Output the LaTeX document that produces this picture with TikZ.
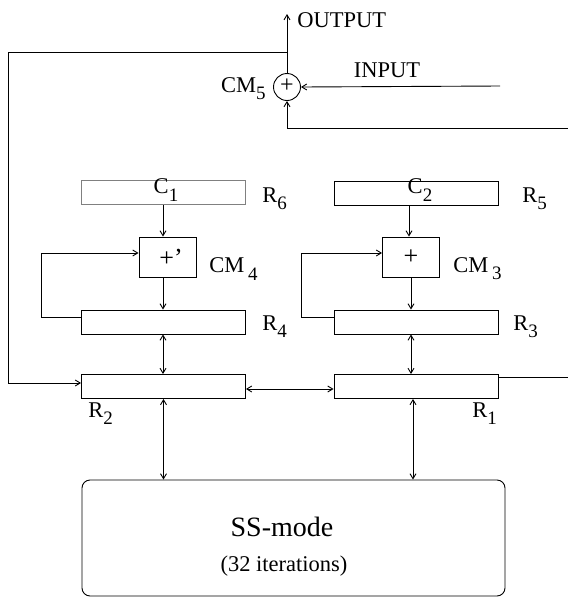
\documentclass[tikz,border=0pt]{standalone}
\usepackage{fontspec}
\setmainfont{Liberation Serif}
\usetikzlibrary{arrows.meta}
\newcommand{\lbl}[2]{#1\raisebox{-0.7ex}{\fontsize{19}{19}\selectfont #2}}
\begin{document}
\begin{tikzpicture}[x=1pt,y=-1pt, line width=0.9pt,
  >={Straight Barb[length=5pt,width=6pt]},
  reg/.style={draw, minimum width=164pt, minimum height=24pt, inner sep=0pt},
  cmbox/.style={draw, minimum width=57pt, minimum height=40pt, inner sep=0pt},
  txt/.style={font=\fontsize{22.5}{24}\selectfont, inner sep=0pt},
  plus/.style={font=\fontsize{26}{26}\selectfont, inner sep=0pt},
  ]
\useasboundingbox (0,0) rectangle (568,598);
% registers
\node[reg, draw=gray] (R6) at (163,192.5) {};
\node[txt] (C1) at (166,190) {\lbl{C}{1}};
\node[txt, anchor=west] (L6) at (262,199) {\lbl{R}{6}};
\node[reg] (R5) at (416,193) {};
\node[txt] (C2) at (420,190) {\lbl{C}{2}};
\node[txt, anchor=west] (L5) at (522,199) {\lbl{R}{5}};
\node[cmbox] (CM4) at (167.5,257) {};
\node[plus] (P4) at (171,258) {+'};
\node[txt, anchor=west] (L4c) at (209,269) {\lbl{CM\,}{4}};
\node[cmbox] (CM3) at (411,257) {};
\node[plus] (P3) at (411,257) {+};
\node[txt, anchor=west] (L3c) at (453,269) {\lbl{CM\,}{3}};
\node[reg] (R4) at (163,322) {};
\node[txt, anchor=west] (L4) at (262,327) {\lbl{R}{4}};
\node[reg] (R3) at (416,322) {};
\node[txt, anchor=west] (L3) at (513,327) {\lbl{R}{3}};
\node[reg] (R2) at (163.5,386.5) {};
\node[txt, anchor=west] (L2) at (88,414) {\lbl{R}{2}};
\node[reg] (R1) at (416,386.5) {};
\node[txt, anchor=west] (L1) at (472,414) {\lbl{R}{1}};
% SS-mode
\node[draw, rounded corners=8pt, minimum width=423pt, minimum height=116pt, inner sep=0pt] (SS) at (293.5,538) {};
\node[font=\fontsize{28}{30}\selectfont, inner sep=0pt] (SSt) at (282,527) {SS-mode};
\node[txt] (SSi) at (284,566) {(32 iterations)};
% CM5
\node[draw, circle, minimum size=27pt, inner sep=0pt] (CM5) at (287,87) {};
\node[font=\fontsize{24}{24}\selectfont, inner sep=0pt] (P5) at (287,86) {+};
\node[txt, anchor=east] (L5c) at (266,89) {\lbl{CM}{5}};
\coordinate (out) at (287,14);
\node[txt, anchor=west] (OUT) at (297,20) {OUTPUT};
\coordinate (in) at (500,86);
\node[txt] (IN) at (387,70) {INPUT};
\coordinate (J) at (287,52);
% connectors
\draw[->] (CM5.north) -- (out);
\draw[->] (in) -- (CM5.east);
\draw[->] (J) -- (8,52) -- (8,383) -- ([yshift=3.5pt]R2.west);
\draw[->] ([yshift=9.5pt]R1.east) -- (571,377) -- (571,128) -- (287,128) -- (CM5.south);
\draw[->] ([yshift=5pt]R4.west) -- (41,317) -- (41,253) -- ([yshift=4pt]CM4.west);
\draw[->] ([yshift=5pt]R3.west) -- (301,317) -- (301,253) -- ([yshift=4pt]CM3.west);
\draw[->] (R6.south) -- (R6.south |- CM4.north);
\draw[->] (CM4.south -| R4.north) -- (R4.north);
\draw[<->] (R4.south) -- (R4.south |- R2.north);
\draw[<->] (R2.south) -- (R2.south |- SS.north);
\draw[->] ([xshift=-7pt]R5.south) -- ([xshift=-7pt]R5.south |- CM3.north);
\draw[->] ([xshift=-5pt]R5.south |- CM3.south) -- ([xshift=-5pt]R3.north);
\draw[<->] ([xshift=-5pt]R3.south) -- ([xshift=-5pt]R1.north);
\draw[<->] ([xshift=-3pt]R1.south) -- ([xshift=-3pt]R1.south |- SS.north);
\draw[<->] ([yshift=-2.5pt]R2.east) -- ([yshift=-2.5pt]R1.west);
\end{tikzpicture}
\end{document}
